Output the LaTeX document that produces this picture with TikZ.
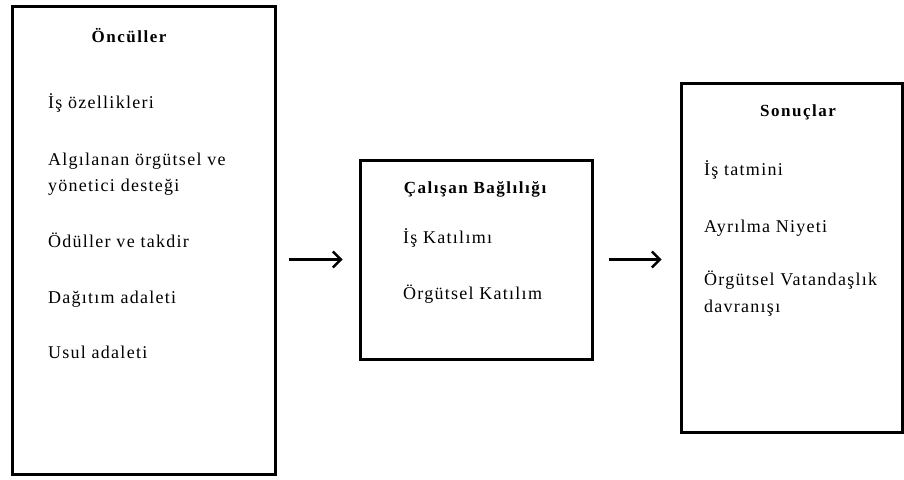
\documentclass[tikz,border=0pt]{standalone}
\usepackage{fontspec}
\setmainfont{Liberation Serif}[LetterSpace=7]
\usetikzlibrary{arrows.meta}

\begin{document}
\begin{tikzpicture}[
		x=1pt,y=-1pt,
		box/.style={draw,line width=3pt,rectangle,inner sep=0pt},
		title/.style={anchor=base,font=\fontsize{17}{19}\selectfont\bfseries\addfontfeatures{LetterSpace=9}},
		item/.style={anchor=base west,font=\fontsize{18}{20}\selectfont,inner sep=0pt},
		link/.style={-{Straight Barb[length=8pt,width=16pt,line width=2.4pt]},line width=2.4pt}
		]
		\useasboundingbox (0,0) rectangle (904,479);
		\node[box,minimum width=263pt,minimum height=468pt] (left) at (143.5,240) {};
		\node[box,minimum width=232pt,minimum height=199pt] (mid) at (476,259.5) {};
		\node[box,minimum width=221pt,minimum height=349pt] (right) at (791.5,257.5) {};
		\node[title] (oncul) at (129,42) {Öncüller};
		\node[item] (is1) at (48,108) {İş özellikleri};
		\node[item] (alg1) at (48,165) {Algılanan örgütsel ve};
		\node[item] (alg2) at (48,191) {yönetici desteği};
		\node[item] (odul) at (48,247) {Ödüller ve takdir};
		\node[item] (dag) at (48,303) {Dağıtım adaleti};
		\node[item] (usul) at (48,358) {Usul adaleti};
		\node[title] (bag) at (475,193) {Çalışan Bağlılığı};
		\node[item] (kat1) at (403,243) {İş Katılımı};
		\node[item] (kat2) at (403,299) {Örgütsel Katılım};
		\node[title] (sonuc) at (798,116) {Sonuçlar};
		\node[item] (tat) at (704,175) {İş tatmini};
		\node[item] (ayr) at (704,232) {Ayrılma Niyeti};
		\node[item] (vat1) at (704,285) {Örgütsel Vatandaşlık};
		\node[item] (vat2) at (704,312) {davranışı};
		\draw[link,shorten <=12pt,shorten >=16pt] (left.east |- mid.west) -- (mid.west);
		\draw[link,shorten <=15pt,shorten >=18pt] (mid.east) -- (right.west |- mid.east);
		\end{tikzpicture}
\end{document}
